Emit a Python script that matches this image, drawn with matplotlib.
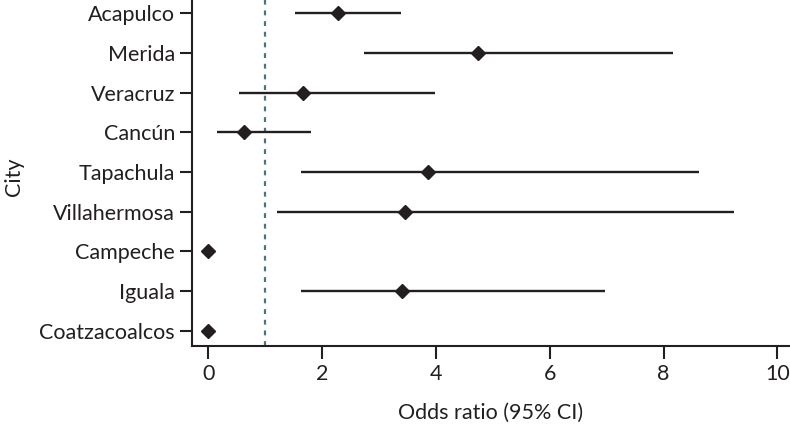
import matplotlib
matplotlib.use("Agg")
import matplotlib.pyplot as plt

plt.rcParams['font.family'] = ['Lato', 'DejaVu Sans']

cities = ["Acapulco", "Merida", "Veracruz", "Cancún", "Tapachula",
          "Villahermosa", "Campeche", "Iguala", "Coatzacoalcos"]
odds_ratio = [2.28, 4.74, 1.67, 0.63, 3.85, 3.46, 0.0, 3.41, 0.0]
ci_low = [1.52, 2.74, 0.54, 0.15, 1.63, 1.21, None, 1.63, None]
ci_high = [3.38, 8.17, 3.99, 1.80, 8.62, 9.23, None, 6.97, None]
x_ticks = [0, 2, 4, 6, 8, 10]
reference_line = 1.0

ink = "#231f20"
fig = plt.figure(figsize=(7.9, 4.24), dpi=100)
ax = fig.add_axes([0.2427, 0.1847, 0.7573, 0.8153])

ypos = list(range(len(cities)))
for y, lo, hi in zip(ypos, ci_low, ci_high):
    if lo is not None:
        ax.hlines(y, lo, hi, color=ink, lw=1.7, zorder=2)
ax.plot(odds_ratio, ypos, linestyle='none', marker='D', ms=7.5,
        color=ink, zorder=3, clip_on=False)
ax.axvline(reference_line, color="#4d7382", lw=1.6, ls=(0, (2.2, 2.6)), zorder=1)

ax.set_yticks(ypos)
ax.set_yticklabels(cities)
ax.set_xticks(x_ticks)
ax.set_xlim(-0.293, 10.22)
ax.set_ylim(8.378, -0.336)

for s in ['top', 'right']:
    ax.spines[s].set_visible(False)
for s in ['left', 'bottom']:
    ax.spines[s].set_linewidth(1.5)
    ax.spines[s].set_color(ink)
ax.tick_params(axis='y', length=9, width=1.5, color=ink, labelcolor=ink,
               labelsize=15.5, pad=3)
ax.tick_params(axis='x', length=9, width=1.5, color=ink, labelcolor=ink,
               labelsize=15.5, pad=4)

ax.set_xlabel("Odds ratio (95% CI)", fontsize=15.5, color=ink)
ax.set_ylabel("City", fontsize=15.5, color=ink)
ax.xaxis.set_label_coords(0.5, -0.165)
ax.yaxis.set_label_coords(-0.28, 0.49)

fig.savefig("out.png", dpi=100)
